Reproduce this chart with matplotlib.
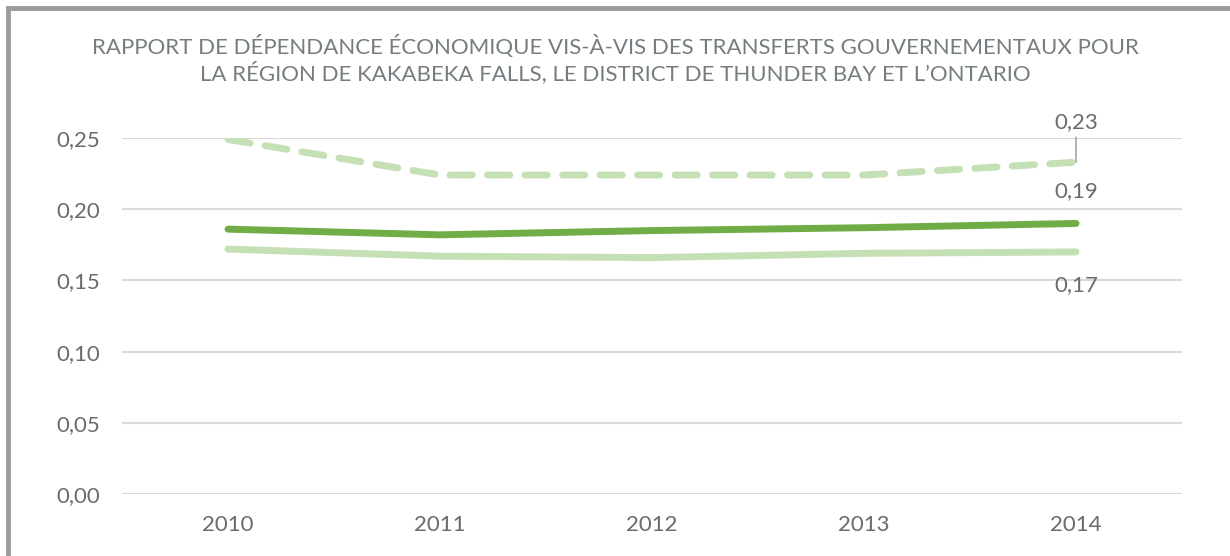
import matplotlib.pyplot as plt
from matplotlib.patches import Rectangle
from matplotlib.ticker import FuncFormatter

plt.rcParams['font.family'] = ['Lato', 'DejaVu Sans']

years = ['2010', '2011', '2012', '2013', '2014']
kakabeka = [0.249, 0.224, 0.224, 0.224, 0.233]
thunder_bay = [0.186, 0.182, 0.185, 0.187, 0.190]
ontario = [0.172, 0.167, 0.166, 0.169, 0.170]

dark_green = '#70AD47'
light_green = '#C5E0B4'
text_gray = '#6b6b6b'

fig = plt.figure(figsize=(12.3, 5.56), dpi=100)
ax = fig.add_axes([122/1230, 62/556, 1060/1230, 356/556])

x = range(len(years))
ax.plot(x, kakabeka, color=light_green, lw=5, dashes=(3.2, 2.2), solid_capstyle='round',
        dash_capstyle='round')
ax.plot(x, ontario, color=light_green, lw=5, solid_capstyle='round')
ax.plot(x, thunder_bay, color=dark_green, lw=5, solid_capstyle='round')

ax.set_xlim(-0.5, len(years) - 0.5)
ax.set_ylim(0, 0.25)
ax.set_yticks([0, 0.05, 0.10, 0.15, 0.20, 0.25])
ax.yaxis.set_major_formatter(FuncFormatter(lambda v, p: f'{v:.2f}'.replace('.', ',')))
ax.set_xticks(list(x))
ax.set_xticklabels(years)
ax.grid(axis='y', color='#d9d9d9', lw=1.5)
ax.set_axisbelow(True)
for s in ax.spines.values():
    s.set_visible(False)
ax.tick_params(length=0, labelsize=16, labelcolor=text_gray)
ax.tick_params(axis='x', pad=15)
ax.tick_params(axis='y', pad=16)

# end labels
last = len(years) - 1
ax.annotate(f'{kakabeka[-1]:.2f}'.replace('.', ','), xy=(last, kakabeka[-1]),
            xytext=(0, 22), textcoords='offset points', ha='center', va='bottom',
            fontsize=16, color=text_gray,
            arrowprops=dict(arrowstyle='-', color='#a6a6a6', lw=1.2, shrinkA=2, shrinkB=0))
ax.annotate(f'{thunder_bay[-1]:.2f}'.replace('.', ','), xy=(last, thunder_bay[-1]),
            xytext=(0, 16), textcoords='offset points', ha='center', va='bottom',
            fontsize=16, color=text_gray)
ax.annotate(f'{ontario[-1]:.2f}'.replace('.', ','), xy=(last, ontario[-1]),
            xytext=(0, -17), textcoords='offset points', ha='center', va='top',
            fontsize=16, color=text_gray)

fig.text(0.5, 0.893, "RAPPORT DE DÉPENDANCE ÉCONOMIQUE VIS-À-VIS DES TRANSFERTS GOUVERNEMENTAUX POUR\n"
         "LA RÉGION DE KAKABEKA FALLS, LE DISTRICT DE THUNDER BAY ET L\u2019ONTARIO",
         ha='center', va='center', fontsize=16, color='#767d80', linespacing=1.15)

fig.patches.append(Rectangle((8/1230, -0.1), 1.2, (556 - 8)/556 + 0.1,
                             transform=fig.transFigure, fill=False,
                             edgecolor='#9a9c9c', lw=3.5))

fig.savefig('out.png', dpi=100)
